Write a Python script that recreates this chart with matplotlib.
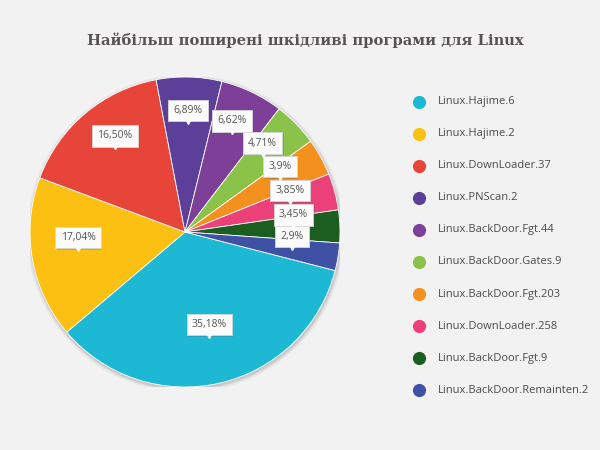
import matplotlib
matplotlib.use("Agg")
import matplotlib.pyplot as plt
import matplotlib.patheffects as pe
import numpy as np

title = "Найбільш поширені шкідливі програми для Linux"
categories = ["Linux.Hajime.6", "Linux.Hajime.2", "Linux.DownLoader.37", "Linux.PNScan.2",
              "Linux.BackDoor.Fgt.44", "Linux.BackDoor.Gates.9", "Linux.BackDoor.Fgt.203",
              "Linux.DownLoader.258", "Linux.BackDoor.Fgt.9", "Linux.BackDoor.Remainten.2"]
values = [35.18, 17.04, 16.50, 6.89, 6.62, 4.71, 3.9, 3.85, 3.45, 2.9]
value_labels = ["35,18%", "17,04%", "16,50%", "6,89%", "6,62%", "4,71%", "3,9%", "3,85%", "3,45%", "2,9%"]
colors = ["#1db8d3", "#fcc012", "#e8453a", "#5b3f98", "#7e3f98", "#8bc34a", "#f4901e",
          "#ec407a", "#1b5e20", "#3f51a5"]

BG = "#f2f2f2"
W, H = 600, 450
fig = plt.figure(figsize=(6, 4.5), dpi=100, facecolor=BG)

cx, cy, R = 185, 232, 155
ax = fig.add_axes([(cx - R) / W, (H - cy - R) / H, 2 * R / W, 2 * R / H])
ax.set_facecolor(BG)

# soft shadow
for k, a in [(1.025, 0.04), (1.015, 0.06), (1.007, 0.08)]:
    ax.add_patch(plt.Circle((0.005, -0.01), k, color="#000000", alpha=a, lw=0, zorder=0))

startangle = -14.4
wedges, _ = ax.pie(values, colors=colors, startangle=startangle, counterclock=False,
                   wedgeprops=dict(edgecolor="white", linewidth=0.6))
for w in wedges:
    w.set_zorder(2)
ax.set_xlim(-1, 1)
ax.set_ylim(-1, 1)
ax.set_aspect("equal")
ax.axis("off")

total = sum(values)
ang = startangle
for v, lab in zip(values, value_labels):
    span = v / total * 360
    mid = np.deg2rad(ang - span / 2)
    ang -= span
    tx, ty = 0.70 * np.cos(mid), 0.70 * np.sin(mid)
    t = ax.text(tx, ty + 0.085, lab, ha="center", va="center", fontsize=7.5,
                family=["Open Sans", "DejaVu Sans"], color="#555555", zorder=6,
                bbox=dict(boxstyle="square,pad=0.5", fc="#fbfbfb", ec="#d6d6d6", lw=0.6))
    t.get_bbox_patch().set_path_effects([pe.SimplePatchShadow(offset=(1, -1), alpha=0.22),
                                         pe.Normal()])
    ax.plot([tx], [ty + 0.024], marker="v", ms=6, color="#fbfbfb", mec="#fbfbfb",
            zorder=7, lw=0)

# overlay axes for title and legend
ov = fig.add_axes([0, 0, 1, 1], facecolor="none")
ov.set_xlim(0, W)
ov.set_ylim(H, 0)
ov.axis("off")
ov.text(305, 40, title, ha="center", va="center", fontsize=10.6, fontweight="bold",
        family=["DejaVu Serif"], color="#575151")

ly0, dy = 101.7, 32.05
for i, (c, name) in enumerate(zip(colors, categories)):
    y = ly0 + i * dy
    ov.scatter([419], [y], s=90, color=c, lw=0)
    ov.text(438, y, name, ha="left", va="center", fontsize=8,
            family=["Open Sans", "DejaVu Sans"], color="#4a4a4a")

fig.savefig("out.png", dpi=100, facecolor=BG)
